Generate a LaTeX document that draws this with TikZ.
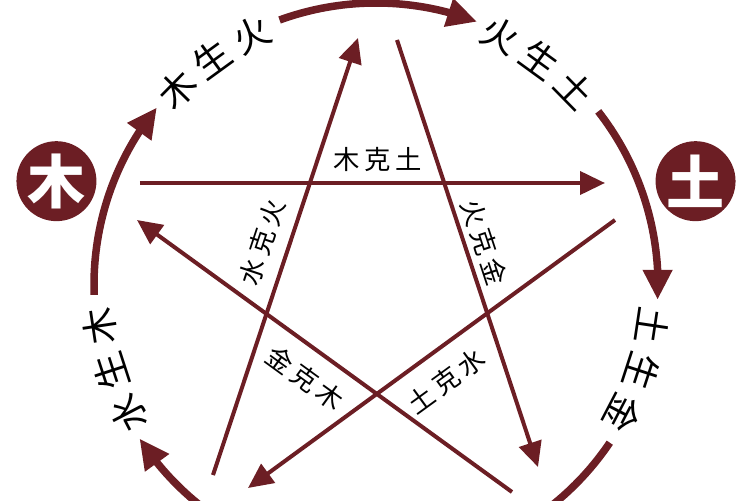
\documentclass[tikz,border=0pt]{standalone}
\usepackage{fontspec}
\newfontfamily\cjk{Noto Sans CJK SC}
\newfontfamily\cjkwide[LetterSpace=18]{Noto Sans CJK SC}
\usetikzlibrary{arrows.meta,bending}
\definecolor{wxred}{RGB}{108,30,36}

\begin{document}
\begin{tikzpicture}[x=0.02cm,y=0.02cm,
    sheng/.style={wxred,line width=0.15cm,-{Triangle[length=0.6cm,width=0.56cm]}},
    ke/.style={wxred,line width=0.08cm,-{Triangle[length=0.5cm,width=0.46cm]}},
    element/.style={circle,fill=wxred,minimum size=1.6cm,inner sep=0pt,text=white,font=\cjk\bfseries\fontsize{33}{33}\selectfont},
    kelabel/.style={inner sep=0pt,font=\cjkwide\fontsize{15}{15}\selectfont},
    shengchar/.style={inner sep=0pt,font=\cjk\fontsize{21}{21}\selectfont}]
    \useasboundingbox (-376,-215) rectangle (374,285);
    \clip (-376,-215) rectangle (374,285);
    % the two elements in view
    \node[element] (mu) at (162:336) {木};
    \node[element] (tu) at (18:336) {土};
    % sheng cycle round the circle
    \foreach \a in {162,90,18,-54,-126}
        \draw[sheng] ({\a+20}:282) arc[start angle=\a+20,end angle=\a-21,radius=282];
    \foreach \m/\p/\q/\r [count=\i] in {126/木/生/火,54/火/生/土,-18/土/生/金,198/水/生/木}{
        \node[shengchar,rotate=\m-80.5] (s\i-a) at ({\m+9.5}:279) {\p};
        \node[shengchar,rotate=\m-90] (s\i-b) at (\m:279) {\q};
        \node[shengchar,rotate=\m-99.5] (s\i-c) at ({\m-9.5}:279) {\r};
    }
    % ke cycle across the star
    \coordinate (muS) at (-236,102);
    \coordinate (muE) at (229,102);
    \coordinate (huoS) at (21,245);
    \coordinate (huoE) at (162,-182);
    \coordinate (tuS) at (239,65);
    \coordinate (tuE) at (-128,-203);
    \coordinate (shuiS) at (-163,-190);
    \coordinate (shuiE) at (-18,247);
    \coordinate (jinS) at (136,-207);
    \coordinate (jinE) at (-239,65);
    \draw[ke] (muS) -- (muE);
    \draw[ke] (huoS) -- (huoE);
    \draw[ke] (tuS) -- (tuE);
    \draw[ke] (shuiS) -- (shuiE);
    \draw[ke] (jinS) -- (jinE);
    \node[kelabel] (muketu) at (2,125) {木克土};
    \node[kelabel,rotate=71.6] (shuikehuo) at (-114,43) {水克火};
    \node[kelabel,rotate=-71.7] (huokejin) at (108,43) {火克金};
    \node[kelabel,rotate=-36] (jinkemu) at (-71,-93) {金克木};
    \node[kelabel,rotate=36] (tukeshui) at (70,-96) {土克水};
\end{tikzpicture}
\end{document}
